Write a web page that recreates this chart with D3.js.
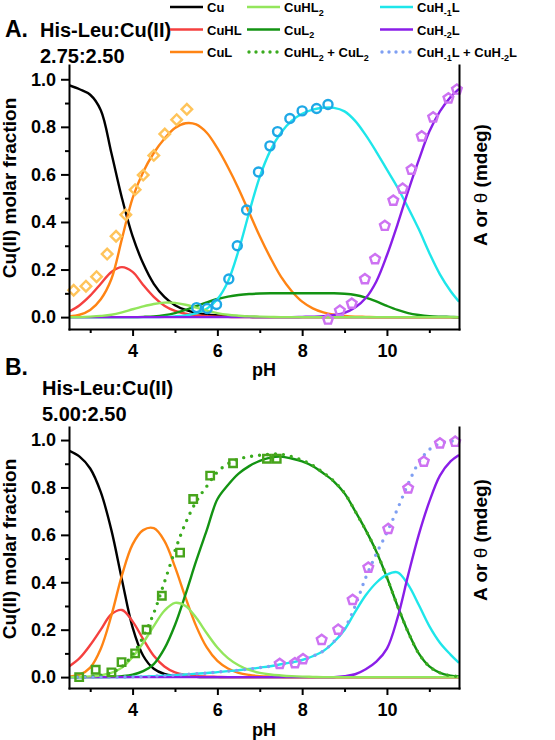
<!DOCTYPE html>
<html><head><meta charset="utf-8">
<script src="https://cdn.jsdelivr.net/npm/d3@7"></script>
<style>
body{margin:0;background:#fff;}
svg{display:block;font-family:"Liberation Sans",Arial,sans-serif;font-weight:bold;}
</style></head><body>
<svg id="c" width="555" height="740"></svg>
<script>
// ---------------- DATA ----------------
const pH = [2.5,2.75,3,3.25,3.5,3.75,4,4.25,4.5,4.75,5,5.25,5.5,5.75,6,6.25,6.5,6.75,7,7.25,7.5,7.75,8,8.25,8.5,8.75,9,9.25,9.5,9.75,10,10.25,10.5,10.75,11,11.25,11.5,11.7];

// Panel A  (His-Leu:Cu(II) 2.75:2.50)
const aCu    = [0.975,0.958,0.935,0.87,0.69,0.5,0.34,0.225,0.14,0.085,0.05,0.03,0.018,0.011,0.007,0.004,0.002,0.001,0,0,0,0,0,0,0,0,0,0,0,0,0,0,0,0,0,0,0,0];
const aCuHL  = [0.023,0.05,0.09,0.14,0.19,0.21,0.19,0.135,0.085,0.048,0.026,0.014,0.007,0.004,0.002,0.001,0,0,0,0,0,0,0,0,0,0,0,0,0,0,0,0,0,0,0,0,0,0];
const aCuL   = [0.003,0.01,0.03,0.075,0.16,0.33,0.5,0.61,0.69,0.75,0.795,0.815,0.81,0.775,0.71,0.63,0.54,0.44,0.34,0.25,0.17,0.11,0.065,0.037,0.02,0.01,0.005,0.002,0.001,0,0,0,0,0,0,0,0,0];
const aCuHL2 = [0,0,0.002,0.005,0.01,0.02,0.033,0.045,0.055,0.061,0.06,0.052,0.04,0.027,0.017,0.01,0.006,0.003,0.002,0.001,0,0,0,0,0,0,0,0,0,0,0,0,0,0,0,0,0,0];
const aCuL2  = [0,0,0,0,0,0,0,0.001,0.003,0.008,0.017,0.03,0.046,0.062,0.076,0.086,0.093,0.097,0.099,0.1,0.1,0.1,0.1,0.1,0.1,0.1,0.098,0.093,0.082,0.066,0.047,0.03,0.017,0.009,0.004,0.002,0.001,0];
const aCuH1L = [0,0,0,0,0,0,0,0,0,0.001,0.003,0.007,0.016,0.035,0.075,0.15,0.28,0.44,0.59,0.7,0.775,0.825,0.855,0.872,0.88,0.88,0.865,0.825,0.765,0.695,0.62,0.545,0.46,0.37,0.27,0.18,0.11,0.065];
const aCuH2L = [0,0,0,0,0,0,0,0,0,0,0,0,0,0,0,0,0,0,0,0,0,0,0.001,0.002,0.004,0.009,0.018,0.04,0.08,0.15,0.26,0.39,0.53,0.66,0.78,0.865,0.925,0.96];

const aDiamondPH  = [2.61,2.90,3.15,3.40,3.61,3.84,4.06,4.25,4.50,4.76,5.04,5.28];
const aDiamondVal = [0.113,0.13,0.17,0.265,0.34,0.43,0.536,0.597,0.68,0.77,0.83,0.874];
const aCirclePH   = [5.51,5.76,5.98,6.27,6.47,6.69,6.97,7.24,7.42,7.71,8.0,8.34,8.61];
const aCircleVal  = [0.04,0.036,0.053,0.16,0.30,0.45,0.61,0.72,0.78,0.835,0.867,0.877,0.894];
const aPentPH     = [8.61,8.89,9.17,9.48,9.72,9.95,10.15,10.37,10.58,10.82,11.09,11.45,11.65];
const aPentVal    = [-0.01,0.027,0.057,0.16,0.244,0.384,0.49,0.54,0.62,0.76,0.84,0.92,0.957];

// Panel B  (His-Leu:Cu(II) 5.00:2.50)
const bCu    = [0.955,0.93,0.88,0.78,0.62,0.41,0.21,0.09,0.035,0.013,0.005,0.002,0.001,0,0,0,0,0,0,0,0,0,0,0,0,0,0,0,0,0,0,0,0,0,0,0,0,0];
const bCuHL  = [0.045,0.08,0.135,0.2,0.265,0.283,0.235,0.16,0.09,0.045,0.02,0.009,0.004,0.002,0.001,0,0,0,0,0,0,0,0,0,0,0,0,0,0,0,0,0,0,0,0,0,0,0];
const bCuL   = [0.002,0.01,0.04,0.12,0.26,0.43,0.56,0.62,0.628,0.575,0.465,0.335,0.215,0.125,0.068,0.036,0.018,0.009,0.004,0.002,0.001,0,0,0,0,0,0,0,0,0,0,0,0,0,0,0,0,0];
const bCuHL2 = [0,0.001,0.003,0.008,0.018,0.04,0.085,0.145,0.215,0.28,0.313,0.3,0.25,0.185,0.125,0.08,0.05,0.03,0.018,0.011,0.007,0.004,0.002,0.001,0,0,0,0,0,0,0,0,0,0,0,0,0,0];
const bCuL2  = [0,0,0,0,0.001,0.004,0.01,0.025,0.055,0.12,0.22,0.35,0.49,0.62,0.75,0.81,0.858,0.89,0.912,0.926,0.93,0.922,0.91,0.89,0.86,0.825,0.775,0.7,0.62,0.53,0.42,0.3,0.19,0.1,0.045,0.018,0.006,0.003];
const bCuH1L = [0,0,0,0,0,0,0.001,0.002,0.004,0.006,0.008,0.011,0.014,0.017,0.021,0.025,0.029,0.034,0.04,0.046,0.054,0.062,0.072,0.088,0.11,0.148,0.2,0.275,0.345,0.398,0.432,0.442,0.39,0.305,0.215,0.145,0.095,0.06];
const bCuH2L = [0,0,0,0,0,0,0,0,0,0,0,0,0,0,0,0,0,0,0,0,0,0,0,0,0,0,0.004,0.012,0.033,0.065,0.12,0.25,0.43,0.6,0.74,0.85,0.91,0.937];
const bSumL2 = [0,0.001,0.003,0.008,0.019,0.044,0.095,0.17,0.27,0.4,0.533,0.65,0.74,0.805,0.865,0.9,0.92,0.93,0.936,0.94,0.94,0.93,0.915,0.893,0.862,0.826,0.776,0.7,0.62,0.53,0.42,0.3,0.19,0.1,0.045,0.018,0.006,0.003];
const bSumH  = [0,0,0,0,0,0,0.001,0.002,0.004,0.006,0.008,0.011,0.014,0.017,0.021,0.025,0.029,0.034,0.04,0.046,0.054,0.062,0.072,0.088,0.11,0.15,0.205,0.3,0.42,0.52,0.61,0.71,0.815,0.905,0.96,0.985,0.995,1.0];

const bSquarePH  = [2.74,3.13,3.5,3.74,4.06,4.33,4.69,5.12,5.43,5.83,6.37,7.17,7.4];
const bSquareVal = [0.0,0.031,0.02,0.063,0.10,0.2,0.343,0.525,0.751,0.85,0.902,0.921,0.921];
const bPentPH    = [7.47,7.83,8.02,8.46,8.85,9.19,9.56,10.03,10.5,10.87,11.25,11.61];
const bPentVal   = [0.056,0.059,0.076,0.157,0.2,0.326,0.462,0.625,0.796,0.909,0.986,0.993];

// Ticks / labels
const xMajor = [4,6,8,10];
const xMinor = [3,5,7,9,11];
const yMajor = [0,0.2,0.4,0.6,0.8,1.0];
const yMinor = [0.1,0.3,0.5,0.7,0.9];
const legendItems = [
  {key:"Cu",    label:[["Cu",0]]},
  {key:"CuHL",  label:[["CuHL",0]]},
  {key:"CuL",   label:[["CuL",0]]},
  {key:"CuHL2", label:[["CuHL",0],["2",1]]},
  {key:"CuL2",  label:[["CuL",0],["2",1]]},
  {key:"SumL2", label:[["CuHL",0],["2",1],[" + CuL",0],["2",1]]},
  {key:"CuH1L", label:[["CuH",0],["-1",1],["L",0]]},
  {key:"CuH2L", label:[["CuH",0],["-2",1],["L",0]]},
  {key:"SumH",  label:[["CuH",0],["-1",1],["L + CuH",0],["-2",1],["L",0]]}
];

// ---------------- STYLE ----------------
const colors = {Cu:"#000000", CuHL:"#f5403f", CuL:"#ff8414", CuHL2:"#93e65c", CuL2:"#139313",
  CuH1L:"#1ee6ea", CuH2L:"#8a1ee8", SumL2:"#3aab1e", SumH:"#7f9ff2"};
const dotted = {SumL2:true, SumH:true};
const mk = {diamond:"#ffc45a", circle:"#1ea8e6", pent:"#cd72f2", square:"#47a41b"};

const svg = d3.select("#c");
const X0 = 69, X1 = 459;

const pentagon = { draw(ctx, size){
  const r = Math.sqrt(size/(2.5*Math.sin(2*Math.PI/5)));
  for(let k=0;k<5;k++){ const a=-Math.PI/2+k*2*Math.PI/5;
    if(k===0) ctx.moveTo(r*Math.cos(a), r*Math.sin(a)); else ctx.lineTo(r*Math.cos(a), r*Math.sin(a)); }
  ctx.closePath(); } };

function richText(textSel, parts, subSize){
  let inSub = false;
  parts.forEach(([t,s])=>{
    const ts = textSel.append("tspan").text(t);
    if(s && !inSub){ ts.attr("dy",3.5).attr("font-size",subSize); inSub=true; }
    else if(s){ ts.attr("font-size",subSize); }
    else if(!s && inSub){ ts.attr("dy",-3.5); inSub=false; }
  });
}

function panel(cfg){
  const x = d3.scaleLinear().domain([2.5,11.7]).range([X0,X1]);
  const y = d3.scaleLinear().domain(cfg.ydom).range([cfg.bottom, cfg.top]);
  const g = svg.append("g");
  const cid = "clip"+cfg.id;
  svg.append("defs").append("clipPath").attr("id",cid).append("rect")
    .attr("x",X0).attr("y",cfg.top-4).attr("width",X1-X0).attr("height",cfg.bottom-cfg.top+4);

  const line = d3.line().x((d,i)=>x(pH[i])).y(d=>y(d)).curve(d3.curveCatmullRom.alpha(0.5));
  const lg = g.append("g").attr("clip-path",`url(#${cid})`);
  cfg.series.forEach(([key,vals])=>{
    const p = lg.append("path").attr("d",line(vals)).attr("fill","none")
      .attr("stroke",colors[key]).attr("stroke-linejoin","round");
    if(dotted[key]) p.attr("stroke-width",3.4).attr("stroke-dasharray","0 8").attr("stroke-linecap","round");
    else p.attr("stroke-width",2.4);
  });

  // markers
  cfg.markers.forEach(m=>{
    const sym = d3.symbol().type(m.type).size(m.size);
    g.append("g").selectAll("path").data(m.ph).join("path")
      .attr("d",sym())
      .attr("transform",(d,i)=>`translate(${x(d)},${y(m.val[i])})${m.rot?" rotate(45)":""}`)
      .attr("fill","none").attr("stroke",m.color).attr("stroke-width",2.4);
  });

  // axes
  const styleAxis = a => { a.attr("font-size",null).attr("font-family",null);
    a.selectAll(".domain").attr("stroke","#000").attr("stroke-width",2).attr("stroke-linecap","square");
    a.selectAll(".tick line").attr("stroke","#000").attr("stroke-width",2);
    a.selectAll("text").attr("fill","#000").style("font-size","18px").style("font-weight","bold"); };

  g.append("g").attr("transform",`translate(0,${cfg.bottom})`)
    .call(d3.axisBottom(x).tickValues(xMinor).tickSize(4).tickFormat("")).call(a=>{a.select(".domain").remove(); styleAxis(a);});
  g.append("g").attr("transform",`translate(0,${cfg.bottom})`)
    .call(d3.axisBottom(x).tickValues(xMajor).tickSize(7).tickPadding(8).tickFormat(d3.format("d")).tickSizeOuter(0)).call(styleAxis);
  g.append("g").attr("transform",`translate(${X0},0)`)
    .call(d3.axisLeft(y).tickValues(yMinor).tickSize(4).tickFormat("")).call(a=>{a.select(".domain").remove(); styleAxis(a);});
  g.append("g").attr("transform",`translate(${X0},0)`)
    .call(d3.axisLeft(y).tickValues(yMajor).tickSize(8).tickPadding(5).tickFormat(d3.format(".1f")).tickSizeOuter(0)).call(styleAxis);
  g.append("g").attr("transform",`translate(${X1},0)`)
    .call(d3.axisRight(y).tickValues([]).tickSizeOuter(0)).call(styleAxis);

  // titles
  g.append("text").attr("x",(X0+X1)/2).attr("y",cfg.pHy).attr("text-anchor","middle")
    .style("font-size","18px").text("pH");
  g.append("text").attr("transform",`translate(16,${cfg.lty}) rotate(-90)`).attr("text-anchor","middle")
    .style("font-size","19px").text("Cu(II) molar fraction");
  const rt = g.append("text").attr("transform",`translate(487,${cfg.rty}) rotate(-90)`).attr("text-anchor","middle")
    .style("font-size","19px");
  rt.append("tspan").text("A or ");
  rt.append("tspan").attr("font-weight","normal").text("θ");
  rt.append("tspan").text(" (mdeg)");

  // panel labels
  if(cfg.letterY) g.append("text").attr("x",5).attr("y",cfg.letterY).style("font-size","23px").text(cfg.letter);
  g.append("text").attr("x",cfg.nameX).attr("y",cfg.nameY).style("font-size","20px").text("His-Leu:Cu(II)");
  g.append("text").attr("x",cfg.nameX).attr("y",cfg.nameY+26).style("font-size","20px").text(cfg.ratio);
}

panel({id:"A", top:65, bottom:329, ydom:[-0.05,1.06], pHy:376, lty:188, rty:185,
  letter:"A.", letterY:37, nameX:40, nameY:37, ratio:"2.75:2.50",
  series:[["Cu",aCu],["CuHL",aCuHL],["CuL",aCuL],["CuL2",aCuL2],["CuH1L",aCuH1L],["CuH2L",aCuH2L],["CuHL2",aCuHL2]],
  markers:[
    {ph:aDiamondPH,val:aDiamondVal,type:d3.symbolSquare,size:56,rot:true,color:mk.diamond},
    {ph:aCirclePH,val:aCircleVal,type:d3.symbolCircle,size:64,color:mk.circle},
    {ph:aPentPH,val:aPentVal,type:pentagon,size:62,color:mk.pent}
  ]});

panel({id:"B", top:427, bottom:688, ydom:[-0.046,1.055], pHy:736, lty:549, rty:540,
  letter:"B.", letterY:375, nameX:42, nameY:395, ratio:"5.00:2.50",
  series:[["Cu",bCu],["CuHL",bCuHL],["CuL",bCuL],["CuL2",bCuL2],["CuH1L",bCuH1L],["CuH2L",bCuH2L],["CuHL2",bCuHL2],["SumL2",bSumL2],["SumH",bSumH]],
  markers:[
    {ph:bSquarePH,val:bSquareVal,type:d3.symbolSquare,size:56,color:mk.square},
    {ph:bPentPH,val:bPentVal,type:pentagon,size:62,color:mk.pent}
  ]});

// legend (top)
const legX = [170,247,380], legY = [7,29.5,52];
legendItems.forEach((it,i)=>{
  const col = Math.floor(i/3), row = i%3;
  const lx = legX[col], ly = legY[row];
  const ln = svg.append("line").attr("x1",lx).attr("x2",lx+33).attr("y1",ly).attr("y2",ly)
    .attr("stroke",colors[it.key]);
  if(dotted[it.key]) ln.attr("stroke-width",3.4).attr("stroke-dasharray","0 7").attr("stroke-linecap","round").attr("x1",lx+2);
  else ln.attr("stroke-width",2.6);
  const t = svg.append("text").attr("x",lx+37).attr("y",ly+5).style("font-size","13px");
  richText(t, it.label, 9);
});
</script>
</body></html>
